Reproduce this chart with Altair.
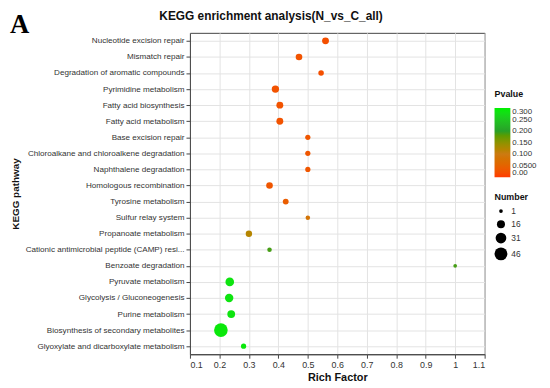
import altair as alt
import pandas as pd

pathways = [
    "Nucleotide excision repair",
    "Mismatch repair",
    "Degradation of aromatic compounds",
    "Pyrimidine metabolism",
    "Fatty acid biosynthesis",
    "Fatty acid metabolism",
    "Base excision repair",
    "Chloroalkane and chloroalkene degradation",
    "Naphthalene degradation",
    "Homologous recombination",
    "Tyrosine metabolism",
    "Sulfur relay system",
    "Propanoate metabolism",
    "Cationic antimicrobial peptide (CAMP) resi...",
    "Benzoate degradation",
    "Pyruvate metabolism",
    "Glycolysis / Gluconeogenesis",
    "Purine metabolism",
    "Biosynthesis of secondary metabolites",
    "Glyoxylate and dicarboxylate metabolism",
]
rich_factor = [0.56, 0.47, 0.545, 0.39, 0.405, 0.405, 0.5, 0.5, 0.5, 0.37,
               0.425, 0.5, 0.30, 0.37, 1.0, 0.235, 0.233, 0.24, 0.205, 0.282]
number = [11, 10, 6, 13, 11, 11, 5, 5, 5, 10,
          7, 3, 9, 3, 1, 19, 18, 15, 52, 5]
pvalue = [0.02, 0.025, 0.02, 0.025, 0.025, 0.025, 0.03, 0.03, 0.03, 0.03,
          0.04, 0.085, 0.12, 0.19, 0.19, 0.285, 0.285, 0.285, 0.29, 0.29]

x_ticks = [0.1, 0.2, 0.3, 0.4, 0.5, 0.6, 0.7, 0.8, 0.9, 1.0, 1.1]
p_ticks = [0.0, 0.05, 0.1, 0.15, 0.2, 0.25, 0.3]
n_ticks = [1, 16, 31, 46]

title_text = ["KEGG enrichment analysis(N_vs_C_all)"]
panel_letter = ["A"]

df = pd.DataFrame({"Pathway": pathways, "Rich": rich_factor,
                   "Number": number, "Pvalue": pvalue})

FONT = "Liberation Sans"

points = alt.Chart(df).mark_circle(opacity=1).encode(
    x=alt.X("Rich:Q",
            scale=alt.Scale(domain=[0.1, 1.1], nice=False, zero=False),
            axis=alt.Axis(title="Rich Factor", values=x_ticks, format="~g",
                          grid=True, gridColor="#e3e3e3", tickSize=4,
                          tickColor="#444", domainColor="#444",
                          labelFontSize=9, labelColor="#333",
                          titleFontSize=11, titleFontWeight="bold",
                          titleColor="#111", titlePadding=3, labelPadding=2)),
    y=alt.Y("Pathway:N", sort=pathways,
            scale=alt.Scale(type="point", padding=0.5),
            axis=alt.Axis(title="KEGG pathway", grid=True, gridColor="#e3e3e3",
                          tickSize=4, tickColor="#444", domainColor="#444",
                          labelFontSize=8.2, labelColor="#333", labelPadding=2,
                          titleFontSize=10, titleFontWeight="bold",
                          titleColor="#111", titlePadding=5)),
    color=alt.Color("Pvalue:Q",
                    scale=alt.Scale(domain=[0.0, 0.1, 0.2, 0.3],
                                    range=["#ff3a00", "#cc7a12", "#28a028", "#00f000"]),
                    legend=alt.Legend(title="Pvalue", values=p_ticks,
                                      labelExpr="datum.value == 0 ? '0.00' : (datum.value < 0.06 ? '0.0500' : format(datum.value, '.3f'))",
                                      labelOverlap=False, labelFontSize=8,
                                      titlePadding=9,
                                      gradientLength=70, gradientThickness=16,
                                      orient="none", legendX=308, legendY=58,
                                      direction="vertical")),
    size=alt.Size("Number:Q",
                  scale=alt.Scale(domain=[1, 46], range=[14, 169], zero=False),
                  legend=alt.Legend(title="Number", values=n_ticks,
                                    symbolFillColor="black", symbolStrokeWidth=0,
                                    labelColor="#333", rowPadding=4,
                                    orient="none", legendX=308, legendY=162)),
)

letter = alt.Chart(pd.DataFrame({"t": panel_letter})).mark_text(
    font="Liberation Serif", fontSize=27, fontWeight="bold", color="black",
    align="left", baseline="alphabetic"
).encode(x=alt.value(-182), y=alt.value(0), text="t:N")

title = alt.Chart(pd.DataFrame({"t": title_text})).mark_text(
    font=FONT, fontSize=12, fontWeight="bold", color="#111",
    align="center", baseline="alphabetic"
).encode(x=alt.value(82), y=alt.value(-13), text="t:N")

chart = alt.layer(points, letter, title).properties(
    width=298, height=325,
    padding={"left": 2, "top": 0, "right": 5, "bottom": 0},
).configure(font=FONT).configure_view(
    stroke="#444", strokeWidth=1
).configure_legend(
    titleFontSize=9, titleFontWeight="bold", titleColor="#111",
    labelFontSize=8.5, labelColor="#333", titlePadding=5
)

chart.save("out.html", embed_options={"renderer": "svg", "actions": False})
